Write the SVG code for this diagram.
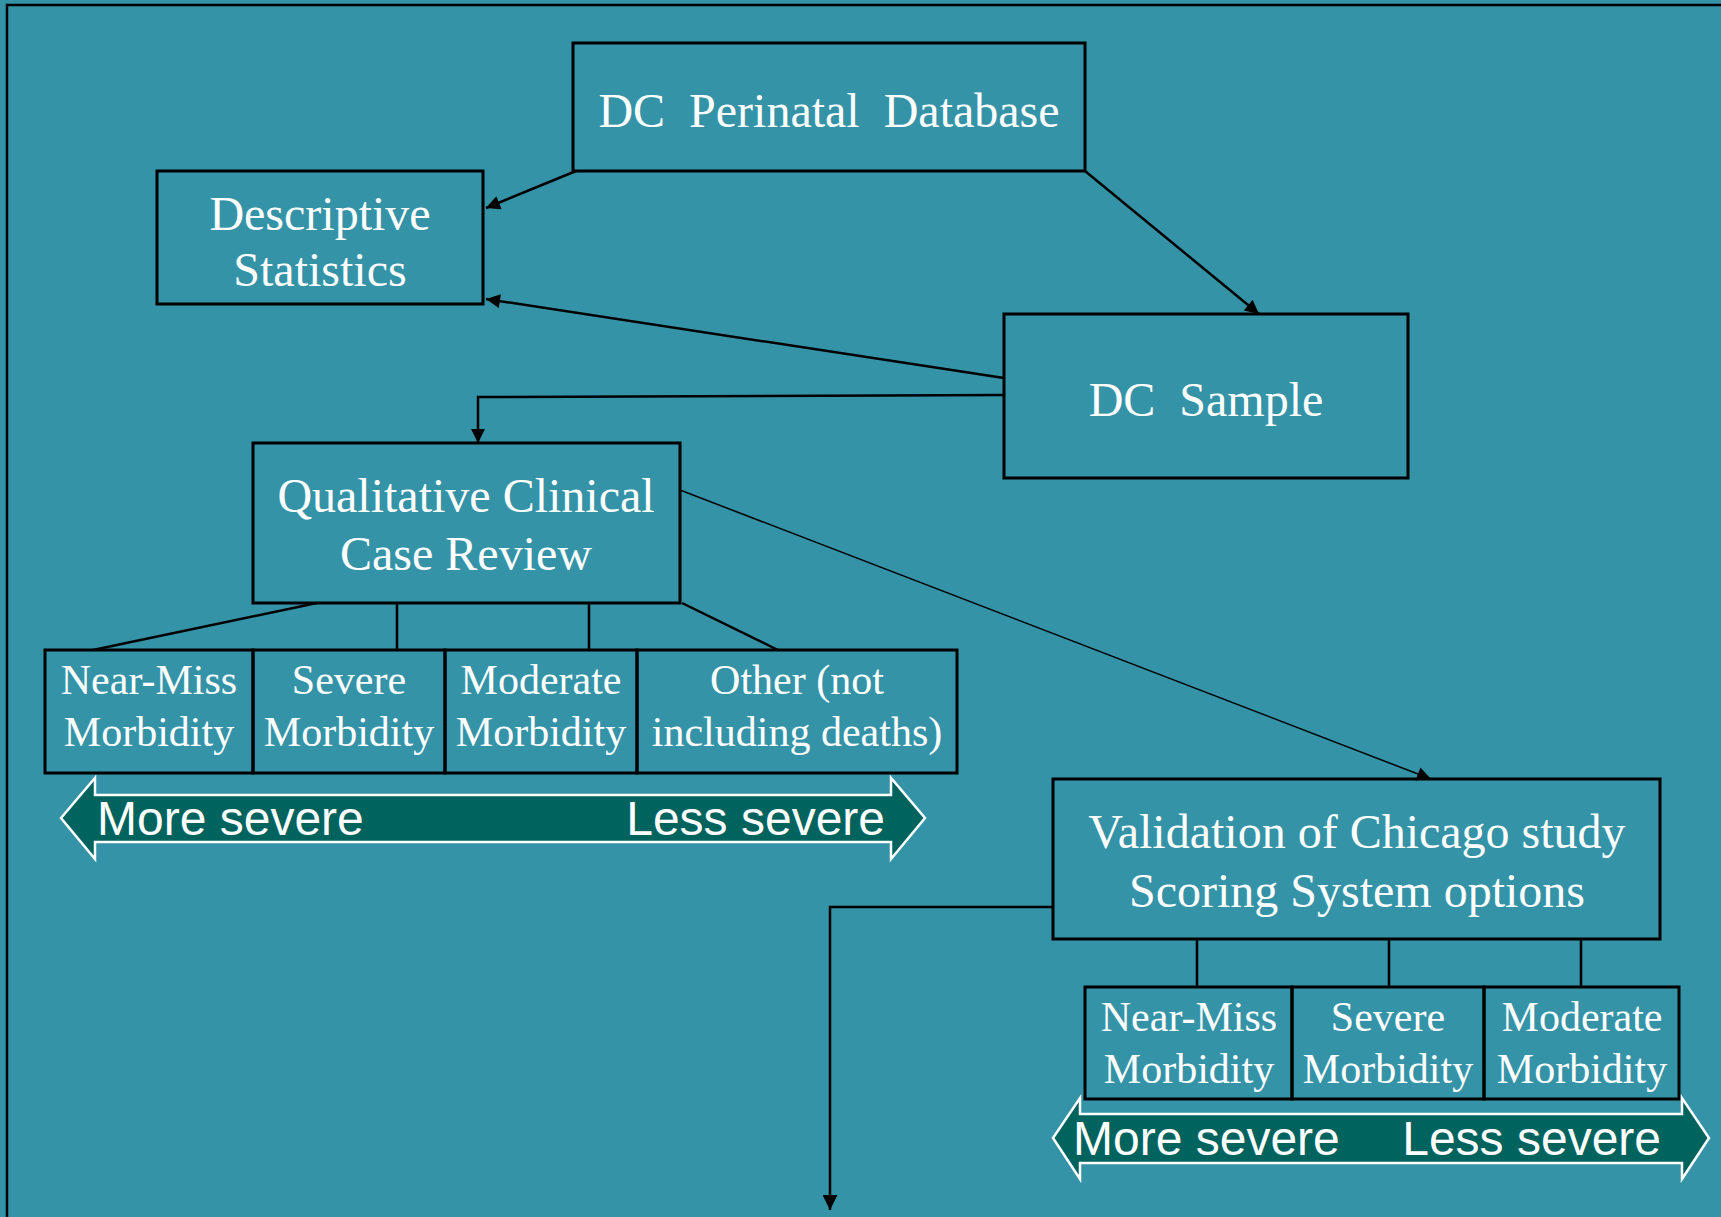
<svg xmlns="http://www.w3.org/2000/svg" width="1721" height="1217" viewBox="0 0 1721 1217">
<defs>
<style>
.box{fill:none;stroke:#000;stroke-width:3}
.t{font-family:"Liberation Serif","Times New Roman",serif;fill:#fff;text-anchor:middle}
.big{font-size:48px}
.small{font-size:42px}
.s{font-family:"Liberation Sans",Arial,sans-serif;font-size:48px;fill:#fff}
.c{fill:none;stroke:#000;stroke-width:2.5}
.thin{fill:none;stroke:#000;stroke-width:1.5}
.band{fill:#00635E;stroke:#fff;stroke-width:2.5}
</style>
<marker id="ah" viewBox="0 0 10 10" refX="10" refY="5" markerWidth="17" markerHeight="14" markerUnits="userSpaceOnUse" orient="auto">
<path d="M0,0 L10,5 L0,10 z" fill="#000"/>
</marker>
<marker id="ahs" viewBox="0 0 10 10" refX="10" refY="5" markerWidth="17" markerHeight="15" markerUnits="userSpaceOnUse" orient="auto">
<path d="M0,0 L10,5 L0,10 z" fill="#000"/>
</marker>
</defs>
<rect x="0" y="0" width="1721" height="1217" fill="#3593A7"/>
<rect x="7" y="5" width="1800" height="1300" fill="none" stroke="#000" stroke-width="2.5"/>

<g id="connectors">
<line class="c" x1="576" y1="171" x2="486" y2="208" marker-end="url(#ah)"/>
<line class="c" x1="1085" y1="171" x2="1259" y2="314" stroke-width="3.2" marker-end="url(#ah)"/>
<line class="c" x1="1004" y1="378" x2="486" y2="299" marker-end="url(#ah)"/>
<polyline class="c" points="1004,395 478,397 478,443" marker-end="url(#ah)"/>
<line class="thin" x1="680" y1="490" x2="1431" y2="779" marker-end="url(#ah)"/>
<polyline class="c" points="1053,907 830,907 830,1210" marker-end="url(#ahs)"/>
<line class="c" x1="317" y1="603" x2="93" y2="650"/>
<line class="c" x1="397" y1="603" x2="397" y2="650"/>
<line class="c" x1="589" y1="603" x2="589" y2="650"/>
<line class="c" x1="682" y1="603" x2="778" y2="650"/>
<line class="c" x1="1197" y1="939" x2="1197" y2="987"/>
<line class="c" x1="1389" y1="939" x2="1389" y2="987"/>
<line class="c" x1="1581" y1="939" x2="1581" y2="987"/>
</g>

<g id="dc-perinatal-database">
<rect class="box" x="573" y="43" width="512" height="128"/>
<text class="t big" x="829" y="127" xml:space="preserve">DC  Perinatal  Database</text>
</g>

<g id="descriptive-statistics">
<rect class="box" x="157" y="171" width="326" height="133"/>
<text class="t big" x="320" y="230">Descriptive</text>
<text class="t big" x="320" y="286">Statistics</text>
</g>

<g id="dc-sample">
<rect class="box" x="1004" y="314" width="404" height="164"/>
<text class="t big" x="1206" y="416" xml:space="preserve">DC  Sample</text>
</g>

<g id="qualitative-review">
<rect class="box" x="253" y="443" width="427" height="160"/>
<text class="t big" x="466" y="512">Qualitative Clinical</text>
<text class="t big" x="466" y="570">Case Review</text>
</g>

<g id="qcr-categories">
<rect class="box" x="45" y="650" width="208" height="123"/>
<rect class="box" x="253" y="650" width="192" height="123"/>
<rect class="box" x="445" y="650" width="192" height="123"/>
<rect class="box" x="637" y="650" width="320" height="123"/>
<text class="t small" x="149" y="694">Near-Miss</text>
<text class="t small" x="149" y="746">Morbidity</text>
<text class="t small" x="349" y="694">Severe</text>
<text class="t small" x="349" y="746">Morbidity</text>
<text class="t small" x="541" y="694">Moderate</text>
<text class="t small" x="541" y="746">Morbidity</text>
<text class="t small" x="797" y="694">Other (not</text>
<text class="t small" x="797" y="746">including deaths)</text>
</g>

<g id="severity-scale-1">
<polygon class="band" points="61,818 95,778 95,795 891,795 891,778 925,818 891,859 891,842 95,842 95,859"/>
<text class="s" x="97" y="835">More severe</text>
<text class="s" x="885" y="835" text-anchor="end">Less severe</text>
</g>

<g id="validation">
<rect class="box" x="1053" y="779" width="607" height="160"/>
<text class="t big" x="1357" y="848">Validation of Chicago study</text>
<text class="t big" x="1357" y="907">Scoring System options</text>
</g>

<g id="validation-categories">
<rect class="box" x="1085" y="987" width="207" height="112"/>
<rect class="box" x="1292" y="987" width="192" height="112"/>
<rect class="box" x="1484" y="987" width="195" height="112"/>
<text class="t small" x="1189" y="1031">Near-Miss</text>
<text class="t small" x="1189" y="1083">Morbidity</text>
<text class="t small" x="1388" y="1031">Severe</text>
<text class="t small" x="1388" y="1083">Morbidity</text>
<text class="t small" x="1582" y="1031">Moderate</text>
<text class="t small" x="1582" y="1083">Morbidity</text>
</g>

<g id="severity-scale-2">
<polygon class="band" points="1053,1138 1080,1098 1080,1114 1682,1114 1682,1098 1709,1138 1682,1179 1682,1163 1080,1163 1080,1179"/>
<text class="s" x="1073" y="1155">More severe</text>
<text class="s" x="1661" y="1155" text-anchor="end">Less severe</text>
</g>
</svg>
